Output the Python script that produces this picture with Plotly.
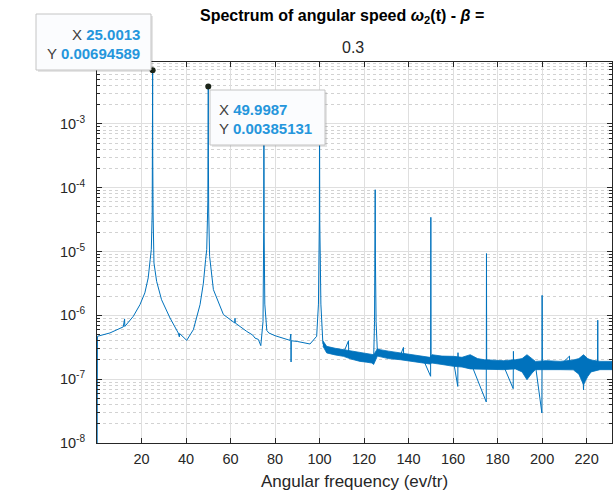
import plotly.graph_objects as go

# ---------------- data ----------------
freq = [0.0, 0.2, 5.8, 11.8, 12.4, 12.5, 16.3, 19.3, 21.5, 23.0, 23.9, 24.4, 24.8, 24.95,
        25.0013, 25.05, 25.2, 25.6, 26.8, 29.0, 32.8, 36.5, 37.0, 37.1, 40.3, 43.3, 46.3,
        47.8, 48.8, 49.3, 49.8, 49.95, 49.9987, 50.05, 50.2, 50.6, 52.3, 56.8, 61.9, 62.0,
        62.1, 67.3, 70.0, 71.0, 72.5, 73.6, 74.6, 74.9, 75.0, 75.1, 75.4, 76.3, 77.2, 80.0,
        86.7, 87.1, 87.2, 87.3, 90.0, 95.7, 98.7, 99.5, 99.9, 100.0, 100.1, 100.6, 101.5,
        103.2, 110.7, 113.0, 113.1, 118.2, 123.5, 124.3, 124.7, 124.9, 125.0, 125.1, 125.4,
        126.0, 127.2, 136.2, 137.7, 137.8, 146.7, 149.9, 150.0, 150.1, 150.5, 160.2, 162.1,
        162.2, 162.3, 167.7, 174.9, 175.0, 175.1, 182.6, 187.0, 187.1, 187.2, 193.2, 197.0,
        199.9, 200.0, 200.1, 208.1, 212.3, 212.4, 218.3, 218.6, 218.9, 222.0, 224.9, 225.0,
        225.1, 231.4]
amp = [1.0e-9, 4.7e-7, 5.3e-7, 6.6e-7, 8.8e-7, 6.7e-7, 9.65e-7, 1.47e-6, 2.25e-6, 3.86e-6,
       7.5e-6, 1.07e-5, 4.0e-5, 3.0e-4,
       6.94589e-3, 3.0e-4, 4.0e-5, 6.6e-6, 3.4e-6, 1.76e-6, 9.1e-7, 5.3e-7, 4.6e-7, 5.2e-7,
       4.06e-7, 5.97e-7, 1.47e-6,
       3.2e-6, 7.5e-6, 1.07e-5, 6.0e-5, 3.0e-4, 3.85131e-3, 3.0e-4, 4.0e-5, 8.4e-6, 2.53e-6,
       1.03e-6, 7.6e-7, 9.0e-7,
       7.6e-7, 5.6e-7, 4.9e-7, 4.4e-7, 4.2e-7, 3.35e-7, 8.0e-7, 2.0e-5, 1.5e-3, 2.0e-5,
       1.5e-6, 5.8e-7, 5.3e-7, 4.8e-7,
       4.06e-7, 5.1e-7, 1.86e-7, 4.0e-7, 3.9e-7, 3.56e-7, 4.7e-7, 1.5e-6, 3.0e-5, 1.2e-3,
       3.0e-5, 1.5e-6, 3.6e-7,
       2.9e-7, 2.55e-7, 4.0e-7, 2.5e-7, 2.2e-7, 2.05e-7, 2.0e-7, 8.0e-7, 8.0e-6, 9.3e-5,
       8.0e-6, 8.0e-7,
       2.6e-7, 2.55e-7, 2.3e-7, 3.15e-7, 2.3e-7, 2.0e-7, 1.11e-7, 3.44e-5, 2.0e-7, 2.05e-7,
       1.9e-7, 7.7e-8,
       2.6e-7, 1.9e-7, 1.9e-7, 4.4e-8, 9.3e-6, 1.7e-7, 1.65e-7, 7.1e-8, 2.73e-7, 1.7e-7,
       1.6e-7, 1.65e-7,
       2.95e-8, 2.06e-6, 1.65e-7, 1.65e-7, 2.3e-7, 1.65e-7, 1.3e-7, 6.8e-8, 1.3e-7, 1.6e-7,
       1.6e-7, 8.4e-7,
       1.6e-7, 1.65e-7]

# noise band envelope (upper / lower) of the high-frequency floor
band_f = [101.5, 103.2, 107.0, 110.7, 114.5, 118.2, 121.0, 123.5, 124.3, 126.0, 127.2,
          131.0, 136.2, 141.0, 146.7, 149.5, 150.5, 155.0, 160.2, 164.0, 167.7, 171.0,
          174.0, 178.0, 182.6, 188.0, 191.0, 193.2, 195.5, 197.0, 202.0, 208.1, 214.0,
          216.5, 218.6, 220.5, 222.0, 226.0, 231.4]
band_hi = [4.0e-7, 3.27e-7, 3.05e-7, 2.9e-7, 2.75e-7, 2.58e-7, 2.5e-7, 2.42e-7, 2.42e-7,
           3.0e-7, 2.9e-7, 2.75e-7, 2.58e-7, 2.45e-7, 2.28e-7, 2.2e-7, 2.42e-7, 2.3e-7,
           2.28e-7, 2.2e-7, 2.42e-7, 2.1e-7, 2.02e-7, 2.0e-7, 1.95e-7, 2.02e-7, 2.1e-7,
           2.42e-7, 2.1e-7, 1.9e-7, 1.95e-7, 1.9e-7, 2.0e-7, 2.1e-7, 2.42e-7, 2.1e-7,
           2.0e-7, 1.9e-7, 1.9e-7]
band_lo = [3.3e-7, 2.58e-7, 2.4e-7, 2.28e-7, 2.05e-7, 1.9e-7, 1.85e-7, 1.79e-7, 1.7e-7,
           2.3e-7, 2.28e-7, 2.1e-7, 2.02e-7, 1.9e-7, 1.79e-7, 1.73e-7, 1.79e-7, 1.7e-7,
           1.59e-7, 1.55e-7, 1.45e-7, 1.45e-7, 1.41e-7, 1.42e-7, 1.41e-7, 1.45e-7, 1.3e-7,
           9.8e-8, 1.25e-7, 1.41e-7, 1.4e-7, 1.41e-7, 1.4e-7, 1.2e-7, 8.2e-8, 1.1e-7,
           1.3e-7, 1.41e-7, 1.41e-7]

tip_x = [25.0013, 49.9987]
tip_y = [0.00694589, 0.00385131]

x_ticks = [20, 40, 60, 80, 100, 120, 140, 160, 180, 200, 220]
y_exps = [-8, -7, -6, -5, -4, -3]

title_line1 = "<b>Spectrum of angular speed <i>ω</i><sub>2</sub>(t) - <i>β</i> =</b>"
title_line2 = "0.3"
x_label = "Angular frequency (ev/tr)"

# ---------------- figure ----------------
LINE = "#0072BD"
AX = "#262626"
FONT = "Liberation Sans, Arial, Helvetica, sans-serif"
VAL = "#2596dc"

fig = go.Figure()

fig.add_trace(go.Scatter(
    x=band_f + band_f[::-1], y=band_hi + band_lo[::-1],
    fill="toself", fillcolor=LINE, line=dict(color=LINE, width=0.8),
    mode="lines", hoverinfo="skip", showlegend=False))

fig.add_trace(go.Scatter(x=freq, y=amp, mode="lines",
                         line=dict(color=LINE, width=1), showlegend=False))

fig.add_trace(go.Scatter(x=tip_x, y=tip_y, mode="markers",
                         marker=dict(color="#1b2418", size=6),
                         cliponaxis=False, showlegend=False))

W, H = 613, 495
ML, MR, MT, MB = 97, 1, 62, 52
PW, PH = W - ML - MR, H - MT - MB


def px(x):
    return (x - ML) / PW


def py(y):
    return (MT + PH - y) / PH


minor_vals = [k * 10.0 ** e for e in range(-8, -2) for k in range(2, 10)]

fig.update_layout(
    width=W, height=H, margin=dict(l=ML, r=MR, t=MT, b=MB),
    paper_bgcolor="white", plot_bgcolor="white",
    font=dict(family=FONT, color=AX, size=14.5),
    xaxis=dict(
        range=[0, 231.4], tickvals=x_ticks, ticks="inside", ticklen=5,
        tickcolor=AX, showline=True, linecolor=AX, linewidth=1, mirror="ticks",
        showgrid=True, gridcolor="#dfdfdf", gridwidth=1, zeroline=False,
        tickfont=dict(size=14.5, color=AX), ticklabelstandoff=3,
        title=dict(text=x_label, font=dict(size=17, color=AX), standoff=8),
    ),
    yaxis=dict(
        type="log", range=[-8, -2.03],
        tickvals=[10.0 ** e for e in y_exps],
        ticktext=["10<sup>%d</sup>" % e for e in y_exps],
        ticks="inside", ticklen=5, tickcolor=AX,
        showline=True, linecolor=AX, linewidth=1, mirror="ticks",
        showgrid=True, gridcolor="#dfdfdf", gridwidth=1, zeroline=False,
        tickfont=dict(size=14.5, color=AX), ticklabelstandoff=8,
        minor=dict(tickmode="array", tickvals=minor_vals, ticks="inside",
                   ticklen=3, tickcolor=AX, showgrid=True,
                   gridcolor="#d2d2d2", griddash="dot", gridwidth=1),
    ),
)

# titles
fig.add_annotation(xref="paper", yref="paper", x=px(342), y=py(17),
                   text=title_line1, showarrow=False, xanchor="center",
                   yanchor="middle", font=dict(size=16, color="#000000"))
fig.add_annotation(xref="paper", yref="paper", x=px(353), y=py(47),
                   text=title_line2, showarrow=False, xanchor="center",
                   yanchor="middle", font=dict(size=16, color=AX))

# datatip boxes
boxes = [(36, 14, 151, 70), (210, 90, 325, 145)]
for (x0, y0, x1, y1) in boxes:
    fig.add_shape(type="rect", xref="paper", yref="paper",
                  x0=px(x0 + 2), y0=py(y1 + 2), x1=px(x1 + 2), y1=py(y0 + 2),
                  line=dict(width=0), fillcolor="rgba(0,0,0,0.10)", layer="above")
    fig.add_shape(type="rect", xref="paper", yref="paper",
                  x0=px(x0), y0=py(y1), x1=px(x1), y1=py(y0),
                  line=dict(color="#c4c4c4", width=1), fillcolor="#fbfcfe",
                  layer="above")

tip_font = dict(size=15, color="#404040")
fig.add_annotation(xref="paper", yref="paper", x=px(142), y=py(34.3),
                   text="X <b><span style='color:%s'>%g</span></b>" % (VAL, tip_x[0]),
                   showarrow=False, xanchor="right", yanchor="middle", font=tip_font)
fig.add_annotation(xref="paper", yref="paper", x=px(142), y=py(54),
                   text="Y <b><span style='color:%s'>%.8f</span></b>" % (VAL, tip_y[0]),
                   showarrow=False, xanchor="right", yanchor="middle", font=tip_font)
fig.add_annotation(xref="paper", yref="paper", x=px(217), y=py(109),
                   text="X <b><span style='color:%s'>%g</span></b>" % (VAL, tip_x[1]),
                   showarrow=False, xanchor="left", yanchor="middle", font=tip_font)
fig.add_annotation(xref="paper", yref="paper", x=px(217), y=py(128.3),
                   text="Y <b><span style='color:%s'>%.8f</span></b>" % (VAL, tip_y[1]),
                   showarrow=False, xanchor="left", yanchor="middle", font=tip_font)

fig.write_html("out.html")
